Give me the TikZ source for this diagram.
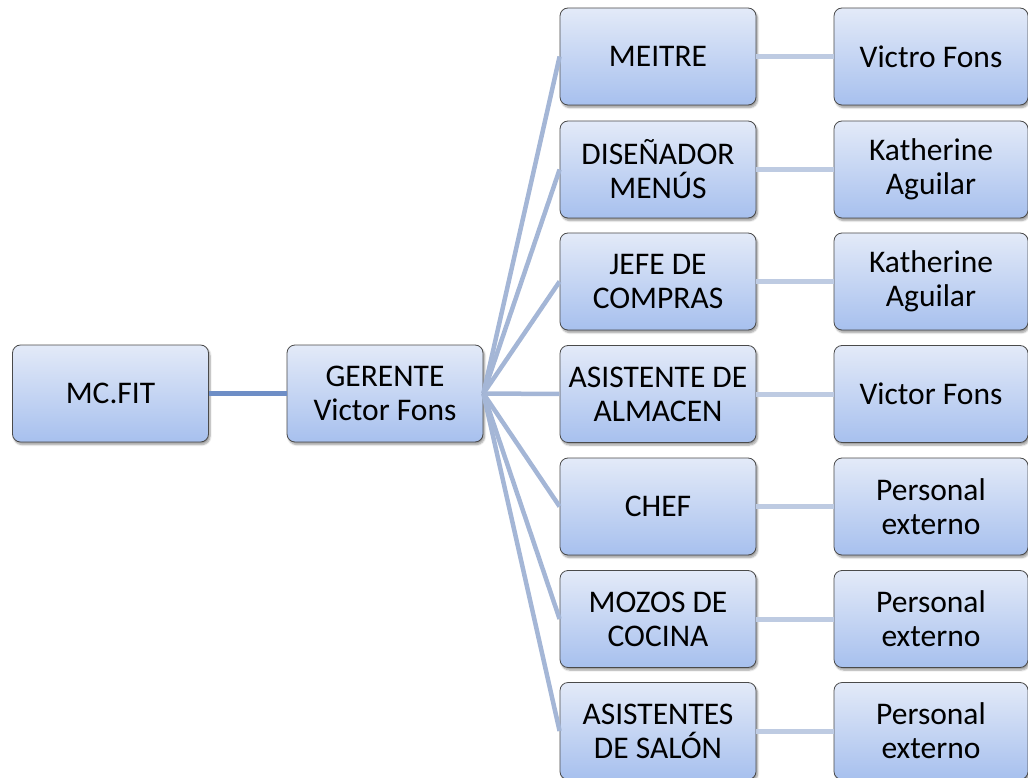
\documentclass[tikz,border=0pt]{standalone}
\usepackage{fontspec}
\setmainfont{Carlito}
\usetikzlibrary{shadows.blur}
\definecolor{boxtop}{HTML}{E3EAF8}
\definecolor{boxbot}{HTML}{A7C0EE}
\definecolor{boxedge}{HTML}{4A4A4A}
\definecolor{rootline}{HTML}{6E8EC6}
\definecolor{fanline}{HTML}{A4B6D6}
\definecolor{sideline}{HTML}{BECBE2}
\tikzset{
  orgbox/.style={rectangle, rounded corners=8pt, draw=boxedge, line width=0.8pt,
    top color=boxtop, bottom color=boxbot, minimum width=196pt, minimum height=97pt,
    align=center, inner sep=2pt,
    font=\fontsize{31.5}{34}\selectfont,
    blur shadow={shadow xshift=1.5pt, shadow yshift=-2.5pt, shadow blur steps=6, shadow opacity=40}},
  namebox/.style={orgbox, minimum width=194pt},
  rootlink/.style={draw=rootline, line width=5pt},
  fanlink/.style={draw=fanline, line width=4.5pt},
  sidelink/.style={draw=sideline, line width=5pt}
}
\begin{document}
\begin{tikzpicture}[x=1pt,y=-1pt]
\useasboundingbox (0,0) rectangle (1028,778);
% root and manager
\node[orgbox] (mc) at (110.5,393.5) {MC.FIT};
\node[orgbox] (ger) at (385,393.5) {GERENTE\\Victor Fons};
% roles
\node[orgbox] (r1) at (658,56.5) {MEITRE};
\node[orgbox] (r2) at (658,169.5) {DISEÑADOR\\MENÚS};
\node[orgbox] (r3) at (658,281.5) {JEFE DE\\COMPRAS};
\node[orgbox] (r4) at (658,394) {ASISTENTE DE\\ALMACEN};
\node[orgbox] (r5) at (658,506.5) {CHEF};
\node[orgbox] (r6) at (658,619) {MOZOS DE\\COCINA};
\node[orgbox] (r7) at (658,731) {ASISTENTES\\DE SALÓN};
% people
\node[namebox] (p1) at (931,56.5) {Victro Fons};
\node[namebox] (p2) at (931,169.5) {Katherine\\Aguilar};
\node[namebox] (p3) at (931,281.5) {Katherine\\Aguilar};
\node[namebox] (p4) at (931,394) {Victor Fons};
\node[namebox] (p5) at (931,506.5) {Personal\\externo};
\node[namebox] (p6) at (931,619) {Personal\\externo};
\node[namebox] (p7) at (931,731) {Personal\\externo};
% connectors between the boxes
\draw[rootlink] (mc.east) -- (ger.west);
\foreach \i in {1,...,7}{
  \draw[fanlink] (ger.east) -- (r\i.west);
  \draw[sidelink] (r\i.east) -- (p\i.west);
}
\end{tikzpicture}
\end{document}
